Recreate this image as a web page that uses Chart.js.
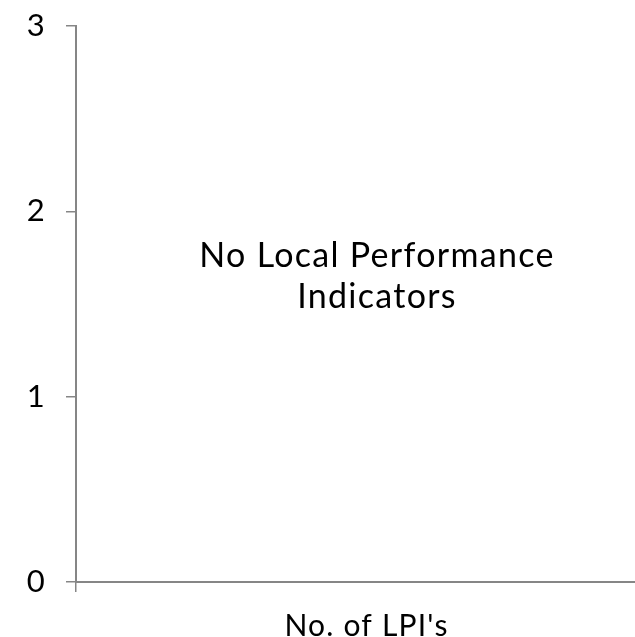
<!DOCTYPE html>
<html>
<head>
<meta charset="utf-8">
<script src="https://cdn.jsdelivr.net/npm/chart.js@4.4.0/dist/chart.umd.min.js"></script>
<style>
    html, body { margin: 0; padding: 0; background: #fff; overflow: hidden; }
    #wrap { width: 635px; height: 637px; overflow: hidden; }
    #inner { width: 657px; height: 637px; }
</style>
</head>
<body>
<div id="wrap"><div id="inner"><canvas id="lpiChart"></canvas></div></div>
<script>
// datos del gráfico
const categories = ["No. of LPI's"];
const lpiCounts = [0];
const yTicks = [0, 1, 2, 3];
const emptyMessage = ['No Local Performance', 'Indicators'];

const axisColor = '#868686';

// Espaciado de letras un poco más ancho, como en la imagen original
const spacingPlugin = {
    id: 'letterSpacing',
    beforeDraw(chart) {
        chart.ctx.letterSpacing = '1.2px';
    }
};

// Mensaje centrado dentro del área del gráfico
const messagePlugin = {
    id: 'emptyMessage',
    afterDraw(chart) {
        const ctx = chart.ctx;
        ctx.save();
        ctx.fillStyle = '#000';
        ctx.font = '34px Lato';
        ctx.letterSpacing = '1.3px';
        ctx.textAlign = 'center';
        ctx.textBaseline = 'alphabetic';
        emptyMessage.forEach((line, i) => {
            ctx.fillText(line, 377, 267 + i * 41);
        });
        ctx.restore();
    }
};

new Chart(document.getElementById('lpiChart'), {
    type: 'bar',
    data: {
        labels: categories,
        datasets: [{
            data: lpiCounts,
            backgroundColor: '#4f81bd',
            borderWidth: 0
        }]
    },
    options: {
        responsive: true,
        maintainAspectRatio: false,
        animation: false,
        layout: { padding: { top: 26, right: 0, left: 0, bottom: 0 } },
        plugins: {
            legend: { display: false },
            tooltip: { enabled: false }
        },
        scales: {
            x: {
                grid: {
                    drawOnChartArea: false,
                    drawTicks: true,
                    tickLength: 10,
                    color: axisColor,
                    lineWidth: 1.5
                },
                border: { display: true, color: axisColor, width: 2 },
                ticks: {
                    color: '#000',
                    font: { family: 'Lato', size: 30 },
                    padding: 16,
                    maxRotation: 0
                },
                afterFit(scale) {
                    scale.height = 55;
                    scale.paddingLeft = 0;
                    scale.paddingRight = 0;
                }
            },
            y: {
                min: yTicks[0],
                max: yTicks[yTicks.length - 1],
                afterBuildTicks(scale) {
                    scale.ticks = yTicks.map(v => ({ value: v }));
                },
                grid: {
                    drawOnChartArea: false,
                    drawTicks: true,
                    tickLength: 10,
                    color: axisColor,
                    lineWidth: 1.5
                },
                border: { display: true, color: axisColor, width: 2 },
                ticks: {
                    color: '#000',
                    font: { family: 'Lato', size: 31 },
                    padding: 20
                },
                afterFit(scale) {
                    scale.width = 76;
                    scale.paddingTop = 0;
                    scale.paddingBottom = 0;
                }
            }
        }
    },
    plugins: [spacingPlugin, messagePlugin]
});
</script>
</body>
</html>
